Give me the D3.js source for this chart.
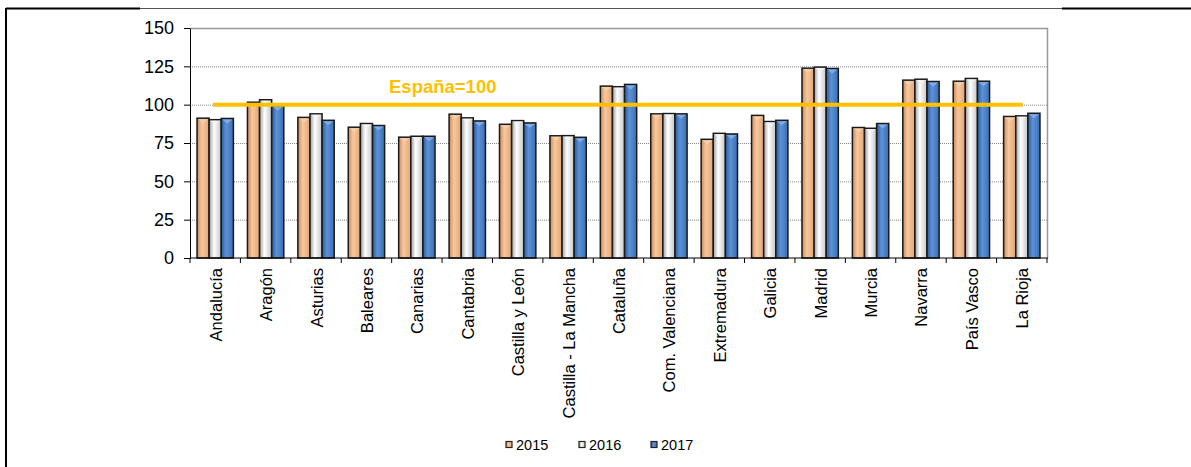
<!DOCTYPE html>
<html>
<head>
<meta charset="utf-8">
<script src="https://cdn.jsdelivr.net/npm/d3@7"></script>
<style>
  body { margin: 0; background: #fff; }
  svg { display: block; font-family: "Liberation Sans", Arial, sans-serif; }
</style>
</head>
<body>
<svg id="drawing_region"></svg>
<script>
const regions = ['Andalucía', 'Aragón', 'Asturias', 'Baleares', 'Canarias', 'Cantabria',
    'Castilla y León', 'Castilla - La Mancha', 'Cataluña', 'Com. Valenciana', 'Extremadura',
    'Galicia', 'Madrid', 'Murcia', 'Navarra', 'País Vasco', 'La Rioja'];
const years = ['2015', '2016', '2017'];
const v2015 = [91.2, 101.6, 91.7, 85.3, 78.8, 93.8, 87.2, 79.7, 112.1, 94.0, 77.4, 93.0, 123.8, 85.1, 116.0, 115.3, 92.3];
const v2016 = [90.2, 103.2, 94.0, 87.7, 79.4, 91.4, 89.6, 79.8, 111.7, 94.2, 81.3, 89.0, 124.5, 84.6, 116.6, 117.1, 92.7];
const v2017 = [91.0, 99.3, 89.8, 86.4, 79.4, 89.4, 88.1, 78.7, 113.2, 94.0, 80.9, 89.8, 123.6, 87.7, 115.1, 115.3, 94.4];
const yTicks = [0, 25, 50, 75, 100, 125, 150];
const reference = 100;
const referenceLabel = 'España=100';

const series = [v2015, v2016, v2017];

const config = {
    width: 1191,
    height: 467,
    left: 190, right: 1047, top: 28, bottom: 258
};

const svg = d3.select('#drawing_region')
    .attr('width', config.width)
    .attr('height', config.height);

// gradients for the cylinder-like bars
const defs = svg.append('defs');
const grads = [
    ['g2015', '#c48b5e', '#f8c79c', '#e2a676'],
    ['g2016', '#9c9c9c', '#ffffff', '#c4c4c4'],
    ['g2017', '#2b5a97', '#5d92d8', '#3a6fb4']
];
grads.forEach(g => {
    const lg = defs.append('linearGradient').attr('id', g[0])
        .attr('x1', '0%').attr('x2', '100%').attr('y1', '0%').attr('y2', '0%');
    lg.append('stop').attr('offset', '0%').attr('stop-color', g[1]);
    lg.append('stop').attr('offset', '40%').attr('stop-color', g[2]);
    lg.append('stop').attr('offset', '100%').attr('stop-color', g[3]);
});
const topColor = ['#f3d2b0', '#f4f4f4', '#8db3e8'];

// page frame lines
svg.append('line').attr('x1', 6).attr('x2', 140).attr('y1', 8.5).attr('y2', 8.5)
    .attr('stroke', '#000').attr('stroke-width', 2);
svg.append('line').attr('x1', 140).attr('x2', 1062).attr('y1', 8.5).attr('y2', 8.5)
    .attr('stroke', '#555').attr('stroke-width', 1);
svg.append('line').attr('x1', 1062).attr('x2', 1191).attr('y1', 8.5).attr('y2', 8.5)
    .attr('stroke', '#000').attr('stroke-width', 2);
svg.append('line').attr('x1', 6).attr('x2', 6).attr('y1', 8).attr('y2', 467)
    .attr('stroke', '#000').attr('stroke-width', 2);

const xscale = d3.scaleBand()
    .domain(regions)
    .range([config.left, config.right])
    .paddingInner(0).paddingOuter(0);

const xsub = d3.scaleBand()
    .domain(years)
    .range([0, xscale.bandwidth()])
    .paddingOuter(0.58).paddingInner(0);

const yscale = d3.scaleLinear()
    .domain([0, 150])
    .range([config.bottom, config.top]);

// grid lines
svg.append('g').selectAll('line')
    .data(yTicks.filter(t => t > 0 && t < 150))
    .enter().append('line')
    .attr('x1', config.left).attr('x2', config.right)
    .attr('y1', d => yscale(d) + 0.5).attr('y2', d => yscale(d) + 0.5)
    .attr('stroke', '#888').attr('stroke-width', 1)
    .attr('stroke-dasharray', '1,1');

// plot border (top + right)
svg.append('path')
    .attr('d', `M${config.left},${config.top + 0.5}H${config.right + 0.5}V${config.bottom}`)
    .attr('fill', 'none').attr('stroke', '#999').attr('stroke-width', 1.5);

// bars
const groups = svg.append('g').selectAll('g')
    .data(regions)
    .enter().append('g')
    .attr('transform', d => `translate(${xscale(d)},0)`);

years.forEach((yr, k) => {
    groups.append('rect')
        .attr('x', xsub(yr))
        .attr('y', (d, i) => yscale(series[k][i]))
        .attr('width', xsub.bandwidth())
        .attr('height', (d, i) => config.bottom - yscale(series[k][i]))
        .attr('fill', `url(#g${yr})`)
        .attr('stroke', '#1a1a1a')
        .attr('stroke-width', 1.5);
    groups.append('path')
        .attr('d', (d, i) => {
            const x0 = xsub(yr) + 1, x1 = xsub(yr) + xsub.bandwidth() - 1;
            const y0 = yscale(series[k][i]) + 1;
            return `M${x0},${y0}L${x1},${y0}L${(x0 + x1) / 2},${y0 + 4}Z`;
        })
        .attr('fill', topColor[k]).attr('opacity', 0.8);
});

// axes
const yaxis = d3.axisLeft(yscale).tickValues(yTicks).tickSize(6).tickPadding(10).tickSizeOuter(0);
const yg = svg.append('g').attr('transform', `translate(${config.left},0)`).call(yaxis);
yg.selectAll('text').attr('font-size', 18).attr('fill', '#000').attr('font-family', '"Liberation Sans", Arial, sans-serif');
yg.selectAll('line, path').attr('stroke', '#000');

const xg = svg.append('g').attr('transform', `translate(0,${config.bottom})`);
xg.append('line').attr('x1', config.left).attr('x2', config.right + 1)
    .attr('stroke', '#000').attr('stroke-width', 1);
xg.selectAll('line.tk')
    .data(d3.range(regions.length + 1))
    .enter().append('line')
    .attr('class', 'tk')
    .attr('x1', i => config.left + i * xscale.step())
    .attr('x2', i => config.left + i * xscale.step())
    .attr('y1', 0).attr('y2', 5)
    .attr('stroke', '#000');
xg.selectAll('text')
    .data(regions)
    .enter().append('text')
    .attr('transform', d => `translate(${xscale(d) + xscale.bandwidth() / 2 + 6.5},10) rotate(-90)`)
    .attr('text-anchor', 'end')
    .attr('font-size', 16.5)
    .attr('fill', '#000')
    .text(d => d);

// reference line
svg.append('line')
    .attr('x1', xscale(regions[0]) + 23).attr('x2', xscale(regions[regions.length - 1]) + 26)
    .attr('y1', yscale(reference)).attr('y2', yscale(reference))
    .attr('stroke', '#ffc000').attr('stroke-width', 4);
svg.append('text')
    .attr('x', 389).attr('y', yscale(reference) - 12)
    .attr('font-size', 18.5).attr('font-weight', 'bold')
    .attr('fill', '#ffc000')
    .text(referenceLabel);

// legend
const legendX = [506, 579, 651];
const legend = svg.append('g').selectAll('g')
    .data(years)
    .enter().append('g')
    .attr('transform', (d, i) => `translate(${legendX[i]},445)`);
legend.append('rect')
    .attr('x', 0).attr('y', -3.5).attr('width', 6).attr('height', 6)
    .attr('fill', d => `url(#g${d})`)
    .attr('stroke', '#222').attr('stroke-width', 1.2);
legend.append('text')
    .attr('x', 10).attr('y', 5)
    .attr('font-size', 14.5)
    .attr('fill', '#000')
    .text(d => d);
</script>
</body>
</html>
